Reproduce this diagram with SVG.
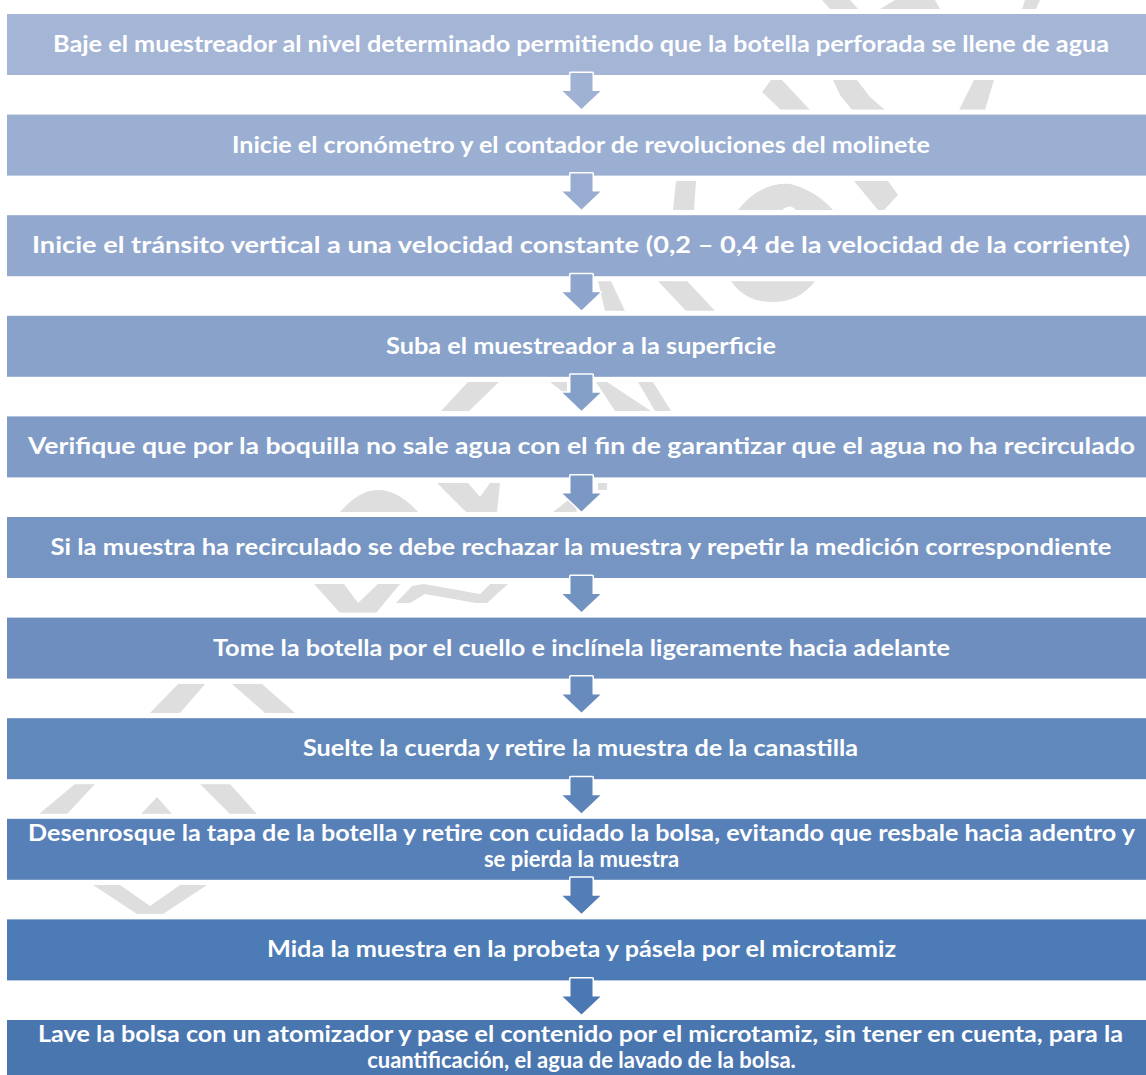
<svg xmlns="http://www.w3.org/2000/svg" width="1146" height="1075" viewBox="0 0 1146 1075">
<style>
.wm{fill:#dedede}
.box{stroke:#ffffff;stroke-width:10;paint-order:stroke}
.t{font-family:Lato,"Open Sans","Liberation Sans",sans-serif;font-weight:bold;font-size:23px;fill:#ffffff;text-anchor:middle}
.t2{font-size:22px}
.arr{stroke:#ffffff;stroke-width:3;stroke-linejoin:round;paint-order:stroke}
</style>
<rect width="1146" height="1075" fill="#ffffff"/>
<g id="watermark">
<polygon class="wm" points="822,0 850,0 858,9 830,9"/>
<polygon class="wm" points="880,9 895,0 935,0 940,9"/>
<polygon class="wm" points="1025,0 1040,0 1036,9 1022,9"/>
<polygon class="wm" points="771,80 782,80 810,110 781,110 762,92"/>
<polygon class="wm" points="833,80 857,80 870,97 885,110 852,110 840,95"/>
<polygon class="wm" points="974,80 994,80 985,110 959,110"/>
<polygon class="wm" points="676,181 696,181 694,210 673,210"/>
<path class="wm" d="M738,210 Q760,182 790,184 Q815,190 833,210 L796,210 Q790,203 782,210 Z"/>
<polygon class="wm" points="854,181 888,181 898,195 884,210 878,210"/>
<polygon class="wm" points="598,281 611,281 625,311 605,311"/>
<polygon class="wm" points="658,281 687,281 715,311 686,311"/>
<path class="wm" d="M731,281 L815,281 Q800,302 772,302 Q745,302 731,281 Z"/>
<polygon class="wm" points="468,382 499,382 469,411 441,411"/>
<polygon class="wm" points="550,382 567,382 567,395"/>
<polygon class="wm" points="596,382 607,382 651,411 615,411"/>
<polygon class="wm" points="638,382 653,382 671,411 655,411"/>
<path class="wm" d="M340,512 Q378,468 418,512 Z"/>
<polygon class="wm" points="437,483 468,483 480,497 490,483 500,483 497,512 466,512"/>
<polygon class="wm" points="553,512 577,512 572,497"/>
<polygon class="wm" points="598,483 607,483 607,490 598,490"/>
<polygon class="wm" points="314,584 344,584 358,603 378,584 400,584 376,613 340,613"/>
<polygon class="wm" points="396,603 412,586 424,584 480,594 490,584 508,584 487,603 476,603 425,594 410,603"/>
<polygon class="wm" points="150,713 180,713 205,684 178,684"/>
<polygon class="wm" points="232,684 262,684 295,713 265,713"/>
<polygon class="wm" points="75,784 95,784 67,814 39,814"/>
<polygon class="wm" points="141,814 172,814 157,797"/>
<polygon class="wm" points="200,784 230,784 257,814 230,814"/>
<polygon class="wm" points="93,885 120,885 150,906 180,885 207,885 163,914 137,914"/>
</g>
<g id="n1"><rect class="box" x="7" y="14" width="1150" height="61" fill="#a4b5d6"/><text class="t" x="581" y="52" textLength="1056" lengthAdjust="spacingAndGlyphs">Baje el muestreador al nivel determinado permitiendo que la botella perforada se llene de agua</text></g>
<g id="n2"><rect class="box" x="7" y="114.6" width="1150" height="61" fill="#9bafd2"/><text class="t" x="581" y="152.6" textLength="698" lengthAdjust="spacingAndGlyphs">Inicie el cronómetro y el contador de revoluciones del molinete</text></g>
<g id="n3"><rect class="box" x="7" y="215.2" width="1150" height="61" fill="#92a8ce"/><text class="t" x="581" y="253.2" textLength="1098" lengthAdjust="spacingAndGlyphs">Inicie el tránsito vertical a una velocidad constante (0,2 – 0,4 de la velocidad de la corriente)</text></g>
<g id="n4"><rect class="box" x="7" y="315.8" width="1150" height="61" fill="#88a2ca"/><text class="t" x="581" y="353.8" textLength="390" lengthAdjust="spacingAndGlyphs">Suba el muestreador a la superficie</text></g>
<g id="n5"><rect class="box" x="7" y="416.4" width="1150" height="61" fill="#7f9bc6"/><text class="t" x="581.5" y="454.4" textLength="1107" lengthAdjust="spacingAndGlyphs">Verifique que por la boquilla no sale agua con el fin de garantizar que el agua no ha recirculado</text></g>
<g id="n6"><rect class="box" x="7" y="517" width="1150" height="61" fill="#7695c2"/><text class="t" x="581" y="555" textLength="1061" lengthAdjust="spacingAndGlyphs">Si la muestra ha recirculado se debe rechazar la muestra y repetir la medición correspondiente</text></g>
<g id="n7"><rect class="box" x="7" y="617.6" width="1150" height="61" fill="#6d8ebe"/><text class="t" x="581.5" y="655.6" textLength="737" lengthAdjust="spacingAndGlyphs">Tome la botella por el cuello e inclínela ligeramente hacia adelante</text></g>
<g id="n8"><rect class="box" x="7" y="718.2" width="1150" height="61" fill="#6088bb"/><text class="t" x="580.5" y="756.2" textLength="555" lengthAdjust="spacingAndGlyphs">Suelte la cuerda y retire la muestra de la canastilla</text></g>
<g id="n9"><rect class="box" x="7" y="818.8" width="1150" height="61" fill="#5780b8"/><text class="t t2" x="581.5" y="840.5" textLength="1107" lengthAdjust="spacingAndGlyphs">Desenrosque la tapa de la botella y retire con cuidado la bolsa, evitando que resbale hacia adentro y</text><text class="t t2" x="581.5" y="867">se pierda la muestra</text></g>
<g id="n10"><rect class="box" x="7" y="919.4" width="1150" height="61" fill="#4c7bb5"/><text class="t" x="581.5" y="957.4" textLength="629" lengthAdjust="spacingAndGlyphs">Mida la muestra en la probeta y pásela por el microtamiz</text></g>
<g id="n11"><rect class="box" x="7" y="1020" width="1150" height="61" fill="#4a76b0"/><text class="t t2" x="580.5" y="1041.5" textLength="1085" lengthAdjust="spacingAndGlyphs">Lave la bolsa con un atomizador y pase el contenido por el microtamiz, sin tener en cuenta, para la</text><text class="t t2" x="581.5" y="1068">cuantificación, el agua de lavado de la bolsa.</text></g>
<g id="connectors">
<path class="arr" fill="#a0b2d4" transform="translate(0,0)" d="M570.5,73 L592.5,73 L592.5,91 L600.5,91 L581.5,109 L562.5,91 L570.5,91 Z"/>
<path class="arr" fill="#97acd0" transform="translate(0,100.6)" d="M570.5,73 L592.5,73 L592.5,91 L600.5,91 L581.5,109 L562.5,91 L570.5,91 Z"/>
<path class="arr" fill="#8da5cc" transform="translate(0,201.2)" d="M570.5,73 L592.5,73 L592.5,91 L600.5,91 L581.5,109 L562.5,91 L570.5,91 Z"/>
<path class="arr" fill="#849fc8" transform="translate(0,301.8)" d="M570.5,73 L592.5,73 L592.5,91 L600.5,91 L581.5,109 L562.5,91 L570.5,91 Z"/>
<path class="arr" fill="#7b98c4" transform="translate(0,402.4)" d="M570.5,73 L592.5,73 L592.5,91 L600.5,91 L581.5,109 L562.5,91 L570.5,91 Z"/>
<path class="arr" fill="#7292c0" transform="translate(0,503)" d="M570.5,73 L592.5,73 L592.5,91 L600.5,91 L581.5,109 L562.5,91 L570.5,91 Z"/>
<path class="arr" fill="#678bbc" transform="translate(0,603.6)" d="M570.5,73 L592.5,73 L592.5,91 L600.5,91 L581.5,109 L562.5,91 L570.5,91 Z"/>
<path class="arr" fill="#5c84b9" transform="translate(0,704.2)" d="M570.5,73 L592.5,73 L592.5,91 L600.5,91 L581.5,109 L562.5,91 L570.5,91 Z"/>
<path class="arr" fill="#527db6" transform="translate(0,804.8)" d="M570.5,73 L592.5,73 L592.5,91 L600.5,91 L581.5,109 L562.5,91 L570.5,91 Z"/>
<path class="arr" fill="#4b78b2" transform="translate(0,905.4)" d="M570.5,73 L592.5,73 L592.5,91 L600.5,91 L581.5,109 L562.5,91 L570.5,91 Z"/>
</g>
</svg>
